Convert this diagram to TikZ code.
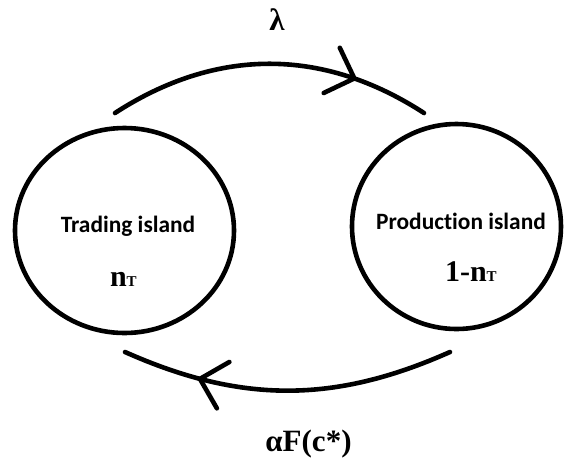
\documentclass[tikz,border=0pt]{standalone}
\usepackage{fontspec}
\setmainfont{Liberation Serif}
\newfontfamily\islandfont[Ligatures={NoCommon,NoRare}]{Carlito}
\usetikzlibrary{arrows.meta,shapes.geometric,decorations.markings}

\begin{document}
\begin{tikzpicture}[x=0.5pt,y=-0.5pt,
    island/.style={draw,ellipse,line width=2.3pt,inner sep=0pt},
    islandname/.style={anchor=base,font=\islandfont\bfseries\fontsize{11.7}{14}\selectfont},
    share/.style={anchor=base west,font=\bfseries\fontsize{15}{18}\selectfont},
    rate/.style={anchor=base,font=\bfseries\fontsize{15.5}{18}\selectfont},
    flow/.style={line width=2.3pt,line cap=round,postaction={decorate},
      decoration={markings,mark=at position 0.77 with
        {\arrow[line width=2.3pt]{Straight Barb[length=12pt,width=24pt,round]}}}}]
    \useasboundingbox (0,0) rectangle (564,457);

    % the two islands
    \node[island,minimum width=109.5pt,minimum height=102.5pt] (trading) at (124.5,230.5) {};
    \node[island,minimum width=104.5pt,minimum height=102.5pt] (production) at (456.5,226.5) {};

    \node[islandname] (tradname) at (128,232) {Trading island};
    \node[share] (tradshare) at (103,286) {n{\fontsize{7.5}{8}\selectfont T}};
    \node[islandname] (prodname) at (461,229) {Production island};
    \node[share] (prodshare) at (438,281) {1-n{\fontsize{7.5}{8}\selectfont T}};

    % flows between them
    \coordinate (upstart) at (115,113);
    \coordinate (upend) at (424,113);
    \coordinate (downstart) at (450,352);
    \coordinate (downend) at (125,352);
    \draw[flow] (upstart) to[bend left=33] (upend);
    \draw[flow] (downstart) to[bend left=24] (downend);

    \node[rate] (lambda) at (277,30) {λ};
    \node[rate] (alpha) at (308.5,451) {αF(c*)};
  \end{tikzpicture}
\end{document}
